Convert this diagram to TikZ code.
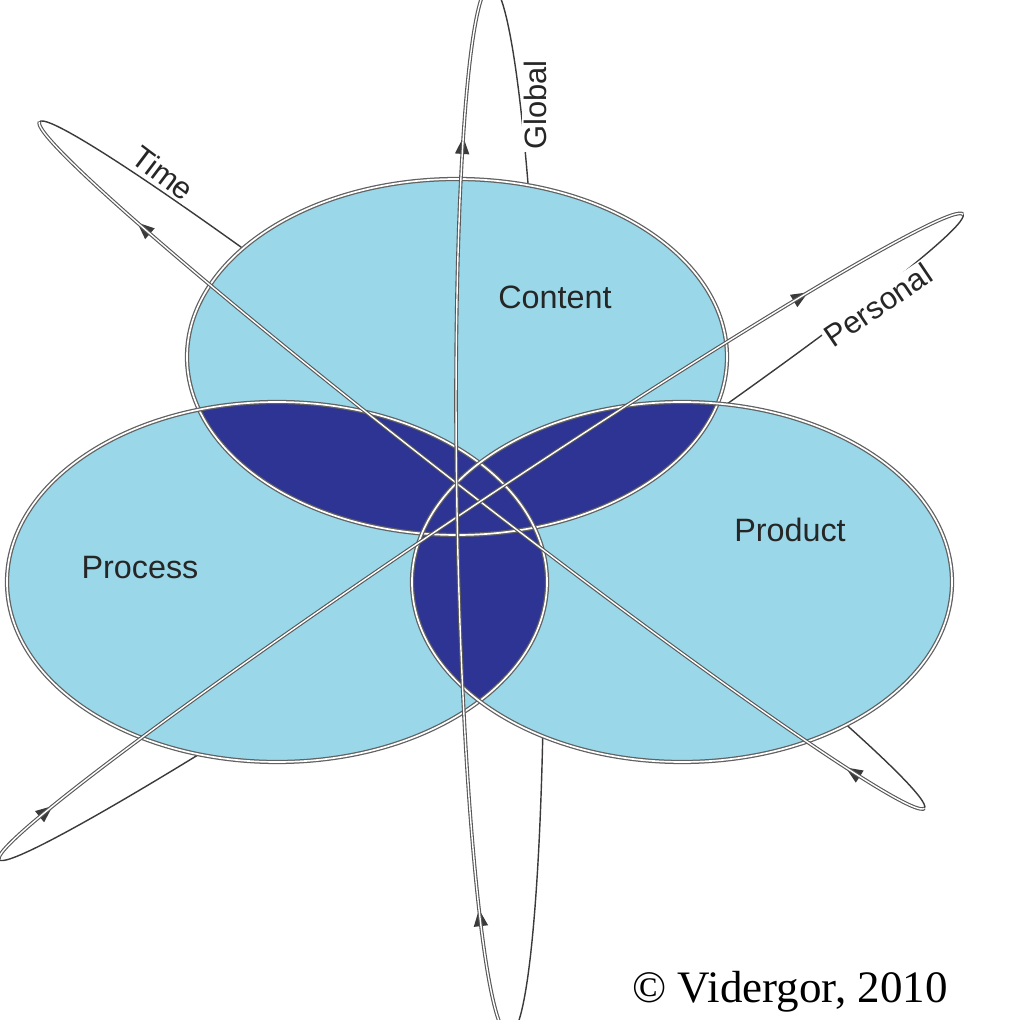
\documentclass[tikz,border=0pt]{standalone}
\usepackage{fontspec}
\setmainfont{Liberation Sans}
\newfontfamily\serifc{Liberation Serif}
\usetikzlibrary{decorations.markings,arrows.meta}
\definecolor{lightb}{HTML}{9AD7E8}
\definecolor{darkb}{HTML}{2E3494}
\definecolor{lineg}{HTML}{3A3A3A}
\tikzset{
  set/.style={draw=lineg!80,double=white,double distance=1.2pt,line width=0.9pt},
  orbit/.style 2 args={draw=lineg,line width=1pt,postaction={decorate},
    decoration={markings,mark=at position #1 with {\arrowreversed{Triangle[length=12pt,width=10pt]}},
                mark=at position #2 with {\arrowreversed{Triangle[length=12pt,width=10pt]}}}},
  front/.style={draw=lineg!85,double=white,double distance=1pt,line width=0.8pt},
  lab/.style={fill=white,inner sep=1.5pt,text=black!85,font=\fontsize{22}{24}\selectfont},
  setlab/.style={text=black!85,font=\fontsize{23}{25}\selectfont}
}
\begin{document}
\begin{tikzpicture}[x=0.025cm,y=0.025cm]
\useasboundingbox (0,0) rectangle (1020,1020);
\begin{scope}
\clip (0,0) rectangle (1020,1020);
\draw[orbit={0.563}{0.96},rotate around={-37.8:(482,555)}] (482,555) ellipse (560 and 30);
\draw[orbit={0.075}{0.467},rotate around={33.8:(481,483)}] (481,483) ellipse (580 and 30);
\draw[orbit={0.074}{0.438},rotate around={91:(500,510)}] (500,510) ellipse (525 and 43);
\end{scope}
\node[lab,rotate=-37] (time) at (163,847) {Time};
\node[lab,rotate=90] (global) at (535,915) {Global};
\node[lab,rotate=34] (personal) at (878,715) {Personal};
\def\C{(457,663) ellipse (270 and 178)}
\def\P{(277,438) ellipse (270 and 180)}
\def\R{(682,438) ellipse (270 and 180)}
\fill[lightb] \C; \fill[lightb] \P; \fill[lightb] \R;
\begin{scope}\clip \C; \fill[darkb] \P; \fill[darkb] \R;\end{scope}
\begin{scope}\clip \P; \fill[darkb] \R;\end{scope}
\draw[set] \C; \draw[set] \P; \draw[set] \R;
\draw[front,rotate around={-37.8:(482,555)}] (482,555) ++(180:560 and 30) arc[start angle=180,end angle=360,x radius=560,y radius=30];
\draw[front,rotate around={33.8:(481,483)}] (481,483) ++(0:580 and 30) arc[start angle=0,end angle=180,x radius=580,y radius=30];
\draw[front,rotate around={91:(500,510)}] (500,510) ++(0:525 and 43) arc[start angle=0,end angle=180,x radius=525,y radius=43];
\node[setlab] (content) at (555,723) {Content};
\node[setlab] (process) at (140,452) {Process};
\node[setlab] (product) at (790,490) {Product};
\node[font=\serifc\fontsize{32}{34}\selectfont] (copy) at (790,28) {© Vidergor, 2010};
\end{tikzpicture}
\end{document}
